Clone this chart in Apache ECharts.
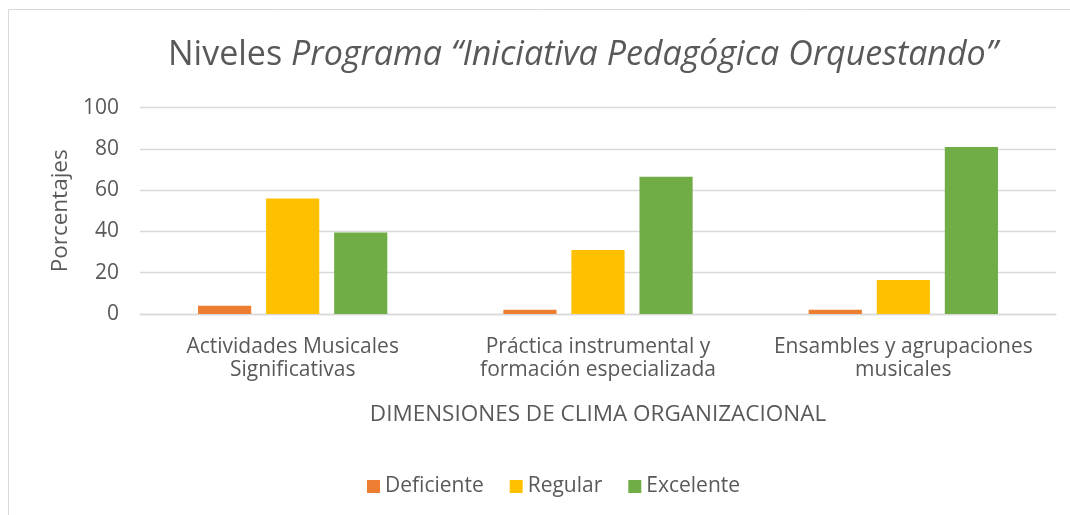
<!DOCTYPE html>
<html>
<head>
<meta charset="utf-8">
<script src="https://cdn.jsdelivr.net/npm/echarts@6/dist/echarts.min.js"></script>
<style>html,body{margin:0;padding:0;background:#fff;}#c{width:1070px;height:515px;}</style>
</head>
<body>
<div id="c"></div>
<script>
const categories = ["Actividades Musicales\nSignificativas", "Práctica instrumental y\nformación especializada", "Ensambles y agrupaciones\nmusicales"];
const seriesNames = ["Deficiente", "Regular", "Excelente"];
const deficiente = [4, 2, 2];
const regular = [56, 31, 16.5];
const excelente = [39.5, 66.5, 81];
const yTicks = [0, 20, 40, 60, 80, 100];
const colors = ["#ED7D31", "#FFC000", "#70AD47"];
const FONT = "'Open Sans', sans-serif";
const TXT = "#595959";

const chart = echarts.init(document.getElementById('c'), null, {renderer: 'canvas'});
const values = [deficiente, regular, excelente];
chart.setOption({
  animation: false,
  backgroundColor: '#fff',
  textStyle: {fontFamily: FONT, color: TXT},
  graphic: [{
    type: 'rect', shape: {x: 8.5, y: 9.5, width: 1100, height: 600},
    style: {fill: 'none', stroke: '#d9d9d9', lineWidth: 1}, silent: true, z: -1
  }],
  title: {
    text: '{n|Niveles }{i|Programa “Iniciativa Pedagógica Orquestando”}',
    left: 163, top: 33,
    textStyle: {
      fontWeight: 'normal',
      rich: {
        n: {fontFamily: FONT, fontSize: 34, fontWeight: 'normal', color: TXT},
        i: {fontFamily: FONT, fontSize: 34, fontWeight: 'normal', fontStyle: 'italic', color: TXT}
      }
    }
  },
  legend: {
    data: seriesNames,
    left: 362, top: 471,
    itemWidth: 13, itemHeight: 13, itemGap: 26,
    icon: 'rect',
    textStyle: {fontFamily: FONT, fontSize: 21, color: TXT}
  },
  grid: {left: 140, right: 14, top: 107.7, bottom: 201, containLabel: false},
  xAxis: {
    type: 'category', data: categories,
    name: 'DIMENSIONES DE CLIMA ORGANIZACIONAL',
    nameLocation: 'middle', nameGap: 89,
    nameTextStyle: {fontFamily: FONT, fontSize: 22.5, color: TXT},
    axisLine: {show: true, lineStyle: {color: '#d9d9d9', width: 1.3}},
    axisTick: {show: false},
    axisLabel: {fontFamily: FONT, fontSize: 21, color: TXT, lineHeight: 23, margin: 22, interval: 0}
  },
  yAxis: {
    type: 'value', min: yTicks[0], max: yTicks[yTicks.length - 1], interval: yTicks[1] - yTicks[0],
    name: 'Porcentajes', nameLocation: 'middle', nameGap: 62, nameRotate: 90,
    nameTextStyle: {fontFamily: FONT, fontSize: 22.5, color: TXT},
    axisLine: {show: false}, axisTick: {show: false},
    axisLabel: {fontFamily: FONT, fontSize: 21, color: TXT, margin: 21},
    splitLine: {lineStyle: {color: '#d9d9d9', width: 1.3}}
  },
  series: seriesNames.map((n, i) => ({
    name: n, type: 'bar', data: values[i],
    itemStyle: {color: colors[i]},
    barGap: '28%', barCategoryGap: '38%'
  }))
});
</script>
</body>
</html>
